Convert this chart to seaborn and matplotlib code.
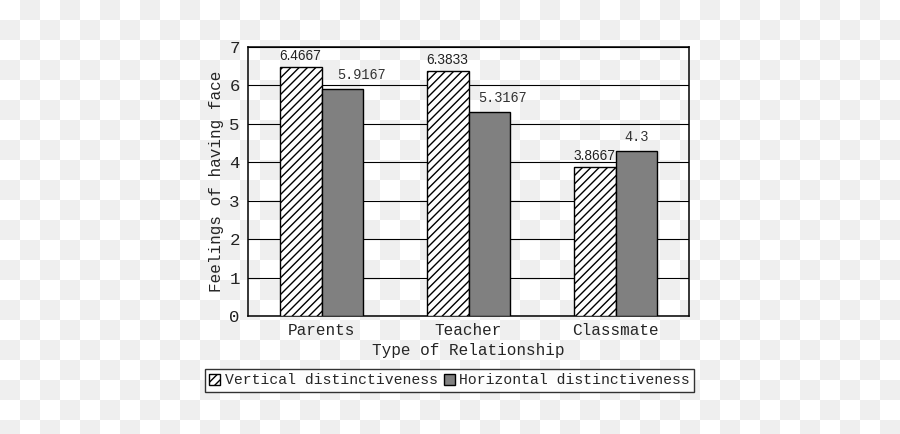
import numpy as np
import pandas as pd
import matplotlib
matplotlib.use("Agg")
import matplotlib.pyplot as plt
import seaborn as sns
from matplotlib.patches import Patch

relationships = ["Parents", "Teacher", "Classmate"]
vertical = [6.4667, 6.3833, 3.8667]
horizontal = [5.9167, 5.3167, 4.3]
series_names = ["Vertical distinctiveness", "Horizontal distinctiveness"]

# horizontal shift (points) of the grey-bar value labels, as placed in the original
horiz_label_shift = [14, 9.5, 0]

df = pd.DataFrame({
    "Type of Relationship": relationships * 2,
    "Score": vertical + horizontal,
    "Group": [series_names[0]] * 3 + [series_names[1]] * 3,
})

sns.set_style("white")
mono = "Liberation Mono"
plt.rcParams["font.family"] = [mono, "DejaVu Sans"]
plt.rcParams["hatch.linewidth"] = 1.0

fig = plt.figure(figsize=(9, 4.34), dpi=100)

# transparent-background checkerboard like the reference
h, w = 434, 900
yy, xx = np.mgrid[0:h, 0:w]
board = (((yy // 20) + (xx // 20)) % 2).astype(float)
img = np.where(board[..., None] > 0, 0.941, 1.0) * np.ones((h, w, 3))
fig.figimage(img[::-1], xo=0, yo=0, zorder=-10, origin="lower")

ax = fig.add_axes([0.2756, 0.2719, 0.49, 0.6198])
ax.set_zorder(2)
ax.patch.set_alpha(0)

sns.barplot(data=df, x="Type of Relationship", y="Score", hue="Group",
            palette=["white", "#808080"], width=0.57, gap=0,
            edgecolor="black", linewidth=1.0, saturation=1, ax=ax, zorder=3)

for bar in ax.containers[0]:
    bar.set_hatch("////")

# value labels
for bar, v in zip(ax.containers[0], vertical):
    ax.annotate(f"{v:g}", (bar.get_x() + bar.get_width() / 2, bar.get_height()),
                xytext=(0, 3), textcoords="offset points", ha="center", va="bottom",
                fontsize=9.8, family="Liberation Sans", color="#222222")
for bar, v, dx in zip(ax.containers[1], horizontal, horiz_label_shift):
    ax.annotate(f"{v:g}", (bar.get_x() + bar.get_width() / 2, bar.get_height()),
                xytext=(dx, 5), textcoords="offset points", ha="center", va="bottom",
                fontsize=9.8, family=mono, color="#333333")

ax.set_ylim(0, 7)
ax.set_yticks(range(0, 8))
ax.yaxis.grid(True, color="black", linewidth=0.8, zorder=0)
ax.set_axisbelow(True)
ax.tick_params(axis="y", length=0, pad=6, labelsize=12.5, colors="#222222")
ax.tick_params(axis="x", which="major", length=0, pad=5, labelsize=11.5)
ax.set_xticks([0.5, 1.5], minor=True)
ax.tick_params(axis="x", which="minor", direction="in", length=5, width=1)
for s in ax.spines.values():
    s.set_visible(True)
    s.set_color("black")
    s.set_linewidth(1.1)

ax.set_xlabel("Type of Relationship", fontsize=11.5, labelpad=4)
ax.set_ylabel("Feelings of having face", fontsize=11.5, labelpad=4)

ax.get_legend().remove()
handles = [Patch(facecolor="white", edgecolor="black", hatch="////"),
           Patch(facecolor="#808080", edgecolor="black")]
leg = fig.legend(handles, series_names, ncol=2, loc="center",
                 bbox_to_anchor=(0.4994, 0.1233), frameon=True, fontsize=10.6,
                 handlelength=0.75, handleheight=0.75, handletextpad=0.3,
                 columnspacing=0.4, borderpad=0.3, fancybox=False)
leg.get_frame().set_edgecolor("black")
leg.get_frame().set_linewidth(1.0)
leg.set_zorder(3)

fig.savefig("out.png", dpi=100)
